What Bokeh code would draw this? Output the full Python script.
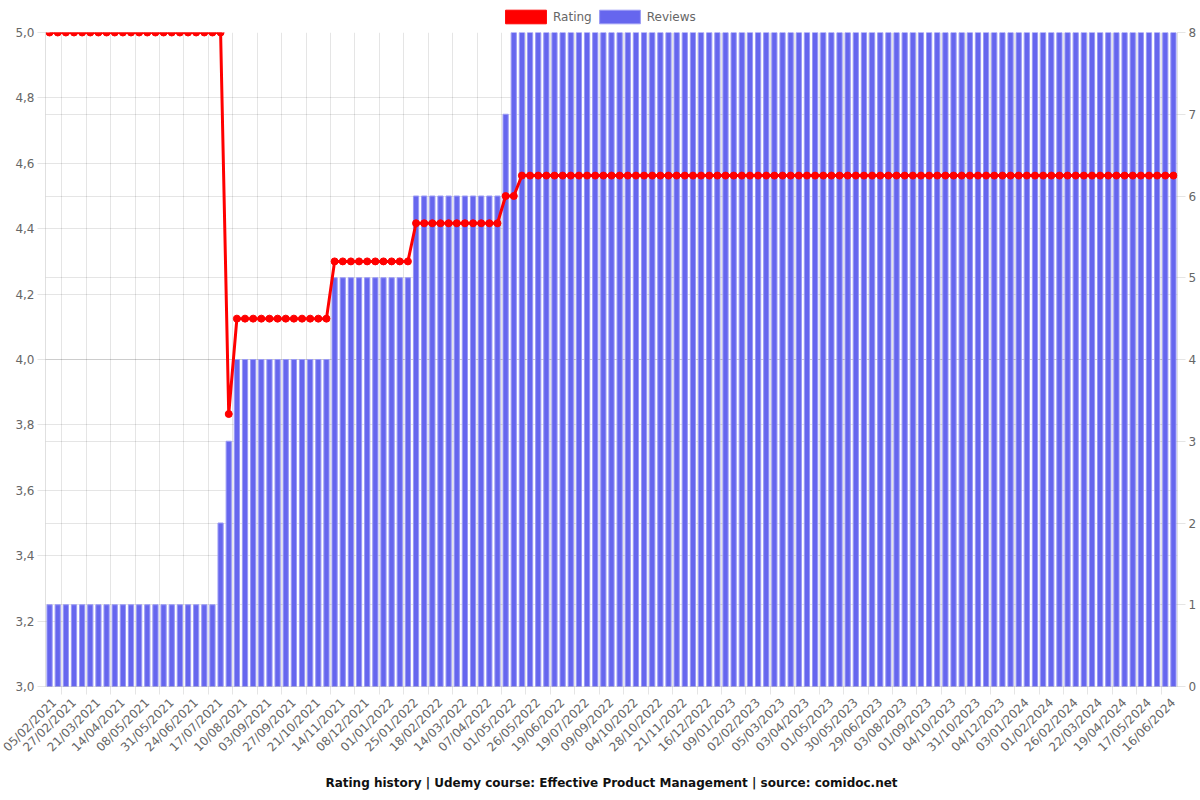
import math
from bokeh.plotting import figure
from bokeh.layouts import column
from bokeh.models import (Range1d, LinearAxis, FixedTicker, ColumnDataSource, Legend,
                          LegendItem, Grid, CustomJSTickFormatter)
from bokeh.embed import file_html
from bokeh.resources import INLINE

# ---- data ----
tick_labels = [
    "05/02/2021", "27/02/2021", "21/03/2021", "14/04/2021", "08/05/2021", "31/05/2021",
    "24/06/2021", "17/07/2021", "10/08/2021", "03/09/2021", "27/09/2021", "21/10/2021",
    "14/11/2021", "08/12/2021", "01/01/2022", "25/01/2022", "18/02/2022", "14/03/2022",
    "07/04/2022", "01/05/2022", "26/05/2022", "19/06/2022", "19/07/2022", "09/09/2022",
    "04/10/2022", "28/10/2022", "21/11/2022", "16/12/2022", "09/01/2023", "02/02/2023",
    "05/03/2023", "03/04/2023", "01/05/2023", "30/05/2023", "29/06/2023", "03/08/2023",
    "01/09/2023", "04/10/2023", "31/10/2023", "04/12/2023", "03/01/2024", "01/02/2024",
    "26/02/2024", "22/03/2024", "19/04/2024", "17/05/2024", "16/06/2024",
]

reviews = [
    1, 1, 1, 1, 1, 1, 1, 1, 1, 1,
    1, 1, 1, 1, 1, 1, 1, 1, 1, 1,
    1, 2, 3, 4, 4, 4, 4, 4, 4, 4,
    4, 4, 4, 4, 4, 5, 5, 5, 5, 5,
    5, 5, 5, 5, 5, 6, 6, 6, 6, 6,
    6, 6, 6, 6, 6, 6, 7, 8, 8, 8,
    8, 8, 8, 8, 8, 8, 8, 8, 8, 8,
    8, 8, 8, 8, 8, 8, 8, 8, 8, 8,
    8, 8, 8, 8, 8, 8, 8, 8, 8, 8,
    8, 8, 8, 8, 8, 8, 8, 8, 8, 8,
    8, 8, 8, 8, 8, 8, 8, 8, 8, 8,
    8, 8, 8, 8, 8, 8, 8, 8, 8, 8,
    8, 8, 8, 8, 8, 8, 8, 8, 8, 8,
    8, 8, 8, 8, 8, 8, 8, 8, 8,
]

rating = [
    5.0, 5.0, 5.0, 5.0, 5.0, 5.0, 5.0, 5.0, 5.0, 5.0,
    5.0, 5.0, 5.0, 5.0, 5.0, 5.0, 5.0, 5.0, 5.0, 5.0,
    5.0, 5.0, 3.8333, 4.125, 4.125, 4.125, 4.125, 4.125, 4.125, 4.125,
    4.125, 4.125, 4.125, 4.125, 4.125, 4.3, 4.3, 4.3, 4.3, 4.3,
    4.3, 4.3, 4.3, 4.3, 4.3, 4.4167, 4.4167, 4.4167, 4.4167, 4.4167,
    4.4167, 4.4167, 4.4167, 4.4167, 4.4167, 4.4167, 4.5, 4.5, 4.5625, 4.5625,
    4.5625, 4.5625, 4.5625, 4.5625, 4.5625, 4.5625, 4.5625, 4.5625, 4.5625, 4.5625,
    4.5625, 4.5625, 4.5625, 4.5625, 4.5625, 4.5625, 4.5625, 4.5625, 4.5625, 4.5625,
    4.5625, 4.5625, 4.5625, 4.5625, 4.5625, 4.5625, 4.5625, 4.5625, 4.5625, 4.5625,
    4.5625, 4.5625, 4.5625, 4.5625, 4.5625, 4.5625, 4.5625, 4.5625, 4.5625, 4.5625,
    4.5625, 4.5625, 4.5625, 4.5625, 4.5625, 4.5625, 4.5625, 4.5625, 4.5625, 4.5625,
    4.5625, 4.5625, 4.5625, 4.5625, 4.5625, 4.5625, 4.5625, 4.5625, 4.5625, 4.5625,
    4.5625, 4.5625, 4.5625, 4.5625, 4.5625, 4.5625, 4.5625, 4.5625, 4.5625, 4.5625,
    4.5625, 4.5625, 4.5625, 4.5625, 4.5625, 4.5625, 4.5625, 4.5625, 4.5625,
]

rating_ticks = [3.0, 3.2, 3.4, 3.6, 3.8, 4.0, 4.2, 4.4, 4.6, 4.8, 5.0]
review_ticks = [0, 1, 2, 3, 4, 5, 6, 7, 8]
series_names = ["Rating", "Reviews"]
title_text = "Rating history | Udemy course: Effective Product Management | source: comidoc.net"

n = len(reviews)
step = 3  # one date label for every third point
x = list(range(n))
label_pos = [i * step for i in range(len(tick_labels))]
grid_pos = [p_ + step / 2 for p_ in label_pos[:-1]]

src = ColumnDataSource(dict(x=x, reviews=reviews, rating=rating))

FONT = "DejaVu Sans"
GREY = "#666666"
RED = "red"
BAR_FILL = "#6666ee"
BAR_LINE = "#9a9af5"

LEG_H = 25
W, H = 1200, 800

# ---------------- main chart ----------------
p = figure(width=W, height=H - LEG_H, output_backend="svg", toolbar_location=None,
           x_range=Range1d(-0.5, n - 0.5), y_range=Range1d(3.0, 5.0),
           min_border_left=45, min_border_right=23, min_border_top=32 - LEG_H,
           min_border_bottom=113, title=title_text, title_location="below")
p.outline_line_color = None
p.background_fill_color = "white"

p.extra_y_ranges = {"reviews": Range1d(0, 8)}

# x axis
xa = p.xaxis[0]
xa.ticker = FixedTicker(ticks=label_pos, minor_ticks=grid_pos)
xa.major_label_overrides = {pos: lab for pos, lab in zip(label_pos, tick_labels)}
xa.major_label_orientation = math.pi / 4
xa.major_tick_out = 0
xa.major_tick_in = 0
xa.minor_tick_out = 8
xa.minor_tick_in = 0
xa.minor_tick_line_color = "black"
xa.minor_tick_line_alpha = 0.1
xa.major_label_standoff = 6

# left axis
ya = p.yaxis[0]
ya.ticker = FixedTicker(ticks=rating_ticks)
ya.formatter = CustomJSTickFormatter(code="return tick.toFixed(1).replace('.', ',');")
ya.major_tick_out = 8
ya.major_tick_in = 0
ya.minor_tick_out = 0
ya.minor_tick_in = 0
ya.major_label_standoff = 3

# right axis
ra = LinearAxis(y_range_name="reviews", ticker=FixedTicker(ticks=review_ticks))
ra.major_tick_out = 8
ra.major_tick_in = 0
ra.minor_tick_out = 0
ra.minor_tick_in = 0
ra.major_label_standoff = 3
p.add_layout(ra, "right")

for ax in [xa, ya, ra]:
    ax.axis_line_color = "black"
    ax.axis_line_alpha = 0.12
    ax.major_tick_line_color = "black"
    ax.major_tick_line_alpha = 0.1
    ax.major_label_text_font = FONT
    ax.major_label_text_font_size = "12px"
    ax.major_label_text_color = GREY

# grids
p.xgrid.ticker = FixedTicker(ticks=grid_pos)
p.ygrid.ticker = FixedTicker(ticks=rating_ticks)
g2 = Grid(dimension=1, y_range_name="reviews", ticker=FixedTicker(ticks=review_ticks))
p.add_layout(g2)
for g in [p.xgrid[0], p.ygrid[0], g2]:
    g.grid_line_color = "black"
    g.grid_line_alpha = 0.1

# bars (reviews)
p.vbar(x="x", top="reviews", bottom=0, width=0.64, source=src, y_range_name="reviews",
       fill_color=BAR_FILL, line_color=BAR_LINE, line_width=1)

# rating line
p.line(x="x", y="rating", source=src, line_color=RED, line_width=3)
p.scatter(x="x", y="rating", source=src, size=7, fill_color=RED, line_color=RED)

# title
p.title.align = "center"
p.title.text_font = FONT
p.title.text_font_size = "12px"
p.title.text_font_style = "bold"
p.title.text_color = "#111111"
p.title.standoff = 22

# ---------------- legend strip ----------------
lf = figure(width=W, height=LEG_H, output_backend="svg", toolbar_location=None,
            x_range=Range1d(0, W), y_range=Range1d(0, LEG_H),
            x_axis_type=None, y_axis_type=None,
            min_border_left=0, min_border_right=0, min_border_top=0, min_border_bottom=0)
lf.outline_line_color = None
lf.grid.visible = False
sw_rating = lf.vbar(x=[-1000], top=[0], bottom=[0], width=1, fill_color=RED, line_color=RED)
sw_reviews = lf.vbar(x=[-1000], top=[0], bottom=[0], width=1, fill_color=BAR_FILL,
                     line_color=BAR_LINE)
legend = Legend(items=[LegendItem(label=series_names[0], renderers=[sw_rating]),
                       LegendItem(label=series_names[1], renderers=[sw_reviews])],
                orientation="horizontal", location=(455, 0),
                glyph_width=51, glyph_height=17, label_height=14,
                label_standoff=2, spacing=2, padding=0, margin=0,
                border_line_color=None, background_fill_alpha=0,
                label_text_font=FONT, label_text_font_size="12px",
                label_text_color=GREY)
lf.add_layout(legend)

layout = column(lf, p, spacing=0)
open("out.html", "w").write(file_html(layout, INLINE))
